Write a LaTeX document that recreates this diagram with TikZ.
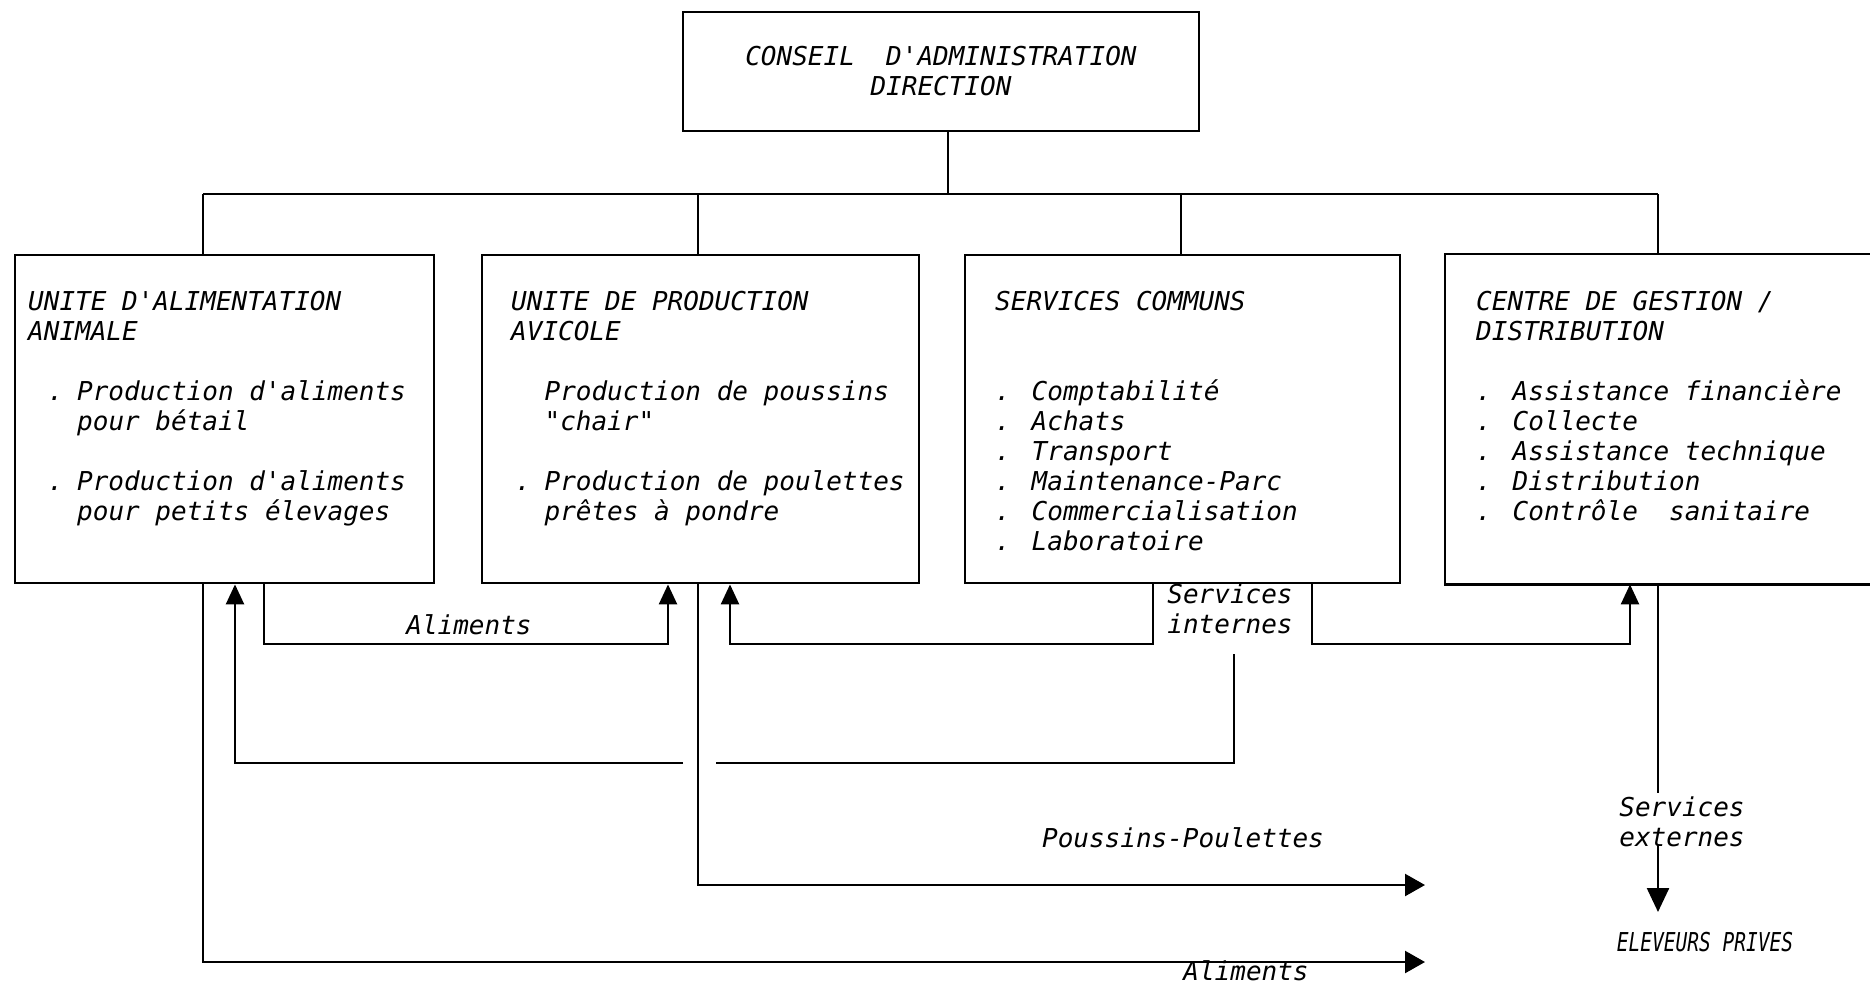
\documentclass[tikz,border=0pt]{standalone}
\usepackage{fontspec}
\newfontfamily\dmono{DejaVu Sans Mono Oblique}[Ligatures=TeXOff]
\usetikzlibrary{arrows.meta}
% bullet item: #1 = start of the dot cell, #2 = start of the item text
\newcommand\bulitem[2]{\makebox[#2][l]{\hspace*{#1}.}}
\newcommand\contitem[1]{\hspace*{#1}}
\begin{document}
\begin{tikzpicture}[x=0.5pt,y=-0.5pt,
  line width=1.2pt,
  txt/.style={font=\dmono\fontsize{13}{15}\selectfont, inner sep=0pt},
  unit/.style={draw, inner sep=0pt, anchor=north west, minimum height=164pt},
  list/.style={txt, anchor=north west, align=left},
  arr/.style={-{Triangle[length=10pt,width=9pt]}},
  arrw/.style={-{Triangle[length=10pt,width=11pt]}},
]
\useasboundingbox (0,0) rectangle (1870,987);

% board of directors
\node[draw, txt, align=center, minimum width=258pt, minimum height=59.5pt]
  (b0) at (941,71.5) {CONSEIL\ \ D'ADMINISTRATION\\DIRECTION};

% the four units
\node[unit, minimum width=209.5pt] (b1) at (14,254) {};
\node[unit, minimum width=218.5pt] (b2) at (481,254) {};
\node[unit, minimum width=217.5pt] (b3) at (964,254) {};
\node[inner sep=0pt, anchor=north west, minimum width=212.5pt, minimum height=164pt] (b4) at (1445,254) {};
\draw (b4.north east) -- (b4.north west) -- (b4.south west) -- (b4.south east);

% unit contents
\node[list] (t1) at (27,290) {UNITE D'ALIMENTATION\\ANIMALE\\[15pt]
  \bulitem{9.8pt}{24.5pt}Production d'aliments\\
  \contitem{24.5pt}pour bétail\\[15pt]
  \bulitem{9.8pt}{24.5pt}Production d'aliments\\
  \contitem{24.5pt}pour petits élevages};
\node[list] (t2) at (510,290) {UNITE DE PRODUCTION\\AVICOLE\\[15pt]
  \contitem{16.7pt}Production de poussins\\
  \contitem{16.7pt}"chair"\\[15pt]
  \bulitem{2.1pt}{16.7pt}Production de poulettes\\
  \contitem{16.7pt}prêtes à pondre};
\node[list] (t3) at (994,290) {SERVICES COMMUNS\\[30pt]
  . Comptabilité\\. Achats\\. Transport\\. Maintenance-Parc\\
  . Commercialisation\\. Laboratoire};
\node[list] (t4) at (1475,290) {CENTRE DE GESTION /\\DISTRIBUTION\\[15pt]
  . Assistance financière\\. Collecte\\. Assistance technique\\
  . Distribution\\. Contrôle\ \ sanitaire};

% hierarchy
\coordinate (v0) at (948,194);
\coordinate (d1) at (203,194);
\coordinate (d2) at (698,194);
\coordinate (d3) at (1181,194);
\coordinate (d4) at (1658,194);
\draw (v0 |- b0.south) -- (v0);
\draw (d1) -- (d4);
\draw (d1) -- (d1 |- b1.north);
\draw (d2) -- (d2 |- b2.north);
\draw (d3) -- (d3 |- b3.north);
\draw (d4) -- (d4 |- b4.north);

% flow labels
\node[txt] (lal) at (469,625) {Aliments};
\node[txt, align=center] (lsi) at (1230,609) {Services\\internes};
\node[txt] (lpp) at (1183,838) {Poussins-Poulettes};
\node[txt, align=center] (lse) at (1682,822) {Services\\externes};
\node[txt] (elev) at (1705,942) {\scalebox{0.75}[1]{ELEVEURS PRIVES}};
\node[txt] (lal2) at (1246,971) {Aliments};

% feed from animal feed unit to poultry unit
\coordinate (a1) at (264,644);
\coordinate (a2) at (668,644);
\draw[arr] (a1 |- b1.south) -- (a1) -- (a2) -- (a2 |- b2.south);

% internal services
\coordinate (s1) at (1153,644);
\coordinate (s2) at (730,644);
\draw[arr] (s1 |- b3.south) -- (s1) -- (s2) -- (s2 |- b2.south);
\coordinate (s3) at (1312,644);
\coordinate (s4) at (1630,644);
\draw[arr] (s3 |- b3.south) -- (s3) -- (s4) -- (s4 |- b4.south);
\coordinate (s5) at (1234,654);
\coordinate (g2) at (716,763);
\coordinate (g1) at (683,763);
\coordinate (k1) at (235,763);
\draw (s5) |- (g2);
\draw[arr] (g1) -- (k1) -- (k1 |- b1.south);

% deliveries to private breeders
\coordinate (p1) at (698,885);
\coordinate (p2) at (1425,885);
\draw[arrw] (p1 |- b2.south) -- (p1) -- (p2);
\coordinate (f1) at (203,962);
\coordinate (f2) at (1425,962);
\draw[arrw] (f1 |- b1.south) -- (f1) -- (f2);
\coordinate (e1) at (1658,793);
\coordinate (e2) at (1658,845);
\coordinate (e3) at (1658,912);
\draw (e1 |- b4.south) -- (e1);
\draw[-{Triangle[length=12pt,width=11pt]}] (e2) -- (e3);
\end{tikzpicture}
\end{document}
